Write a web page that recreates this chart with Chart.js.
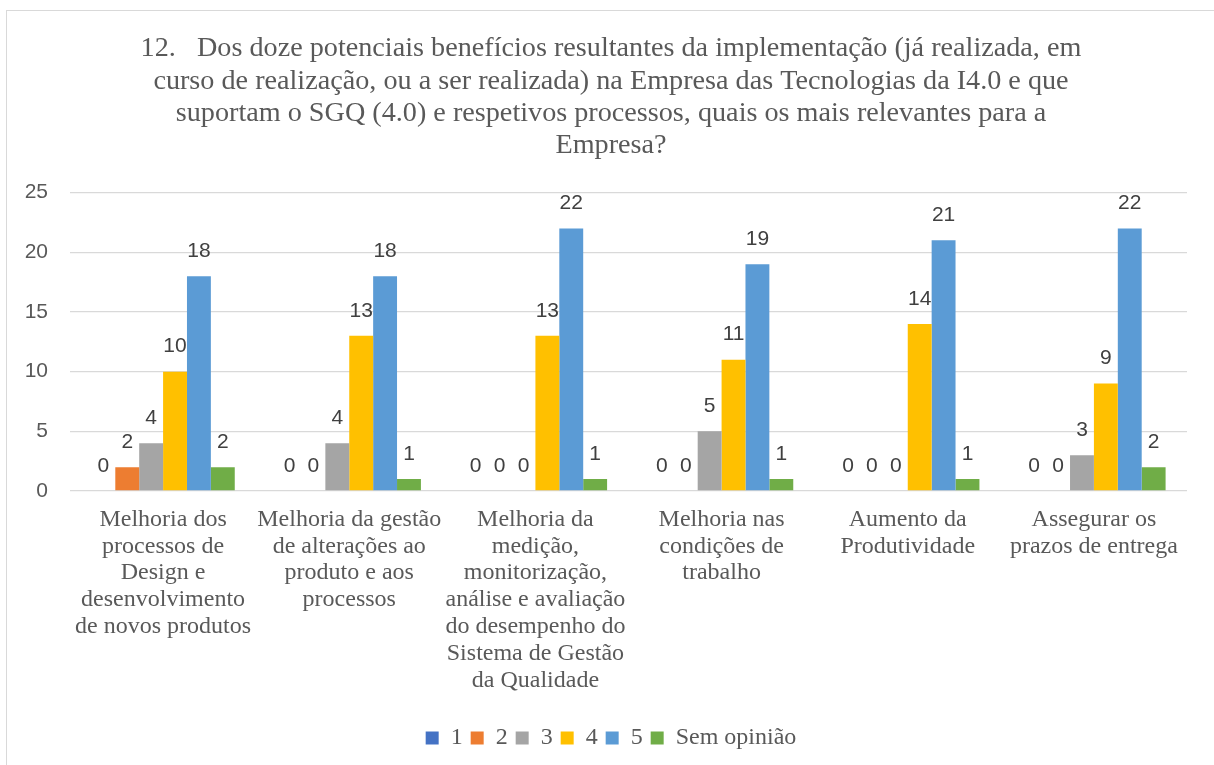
<!DOCTYPE html>
<html lang="pt">
<head>
    <meta charset="UTF-8">
    <title>Benefícios I4.0</title>
    <style>
        body {
            margin: 0;
            padding: 0;
            background: #fff;
            overflow: hidden;
        }
        .frame {
            position: absolute;
            left: 6px;
            top: 10px;
            width: 1300px;
            height: 900px;
            border: 1px solid #d9d9d9;
        }
        .chart-box {
            position: absolute;
            left: 0;
            top: 0;
            width: 1214px;
            height: 765px;
        }
    </style>
</head>
<body>
    <div class="frame"></div>
    <div class="chart-box">
        <canvas id="chart" width="1214" height="765"></canvas>
    </div>

    <script src="https://cdn.jsdelivr.net/npm/chart.js"></script>
    <script>
        // Data
        const categories = [
            ['Melhoria dos', 'processos de', 'Design e', 'desenvolvimento', 'de novos produtos'],
            ['Melhoria da gestão', 'de alterações ao', 'produto e aos', 'processos'],
            ['Melhoria da', 'medição,', 'monitorização,', 'análise e avaliação', 'do desempenho do', 'Sistema de Gestão', 'da Qualidade'],
            ['Melhoria nas', 'condições de', 'trabalho'],
            ['Aumento da', 'Produtividade'],
            ['Assegurar os', 'prazos de entrega']
        ];
        const seriesNames = ['1', '2', '3', '4', '5', 'Sem opinião'];
        const s1 = [0, 0, 0, 0, 0, 0];
        const s2 = [2, 0, 0, 0, 0, 0];
        const s3 = [4, 4, 0, 5, 0, 3];
        const s4 = [10, 13, 13, 11, 14, 9];
        const s5 = [18, 18, 22, 19, 21, 22];
        const sSem = [2, 1, 1, 1, 1, 2];
        const colors = ['#4472C4', '#ED7D31', '#A5A5A5', '#FFC000', '#5B9BD5', '#70AD47'];
        const yTicks = [0, 5, 10, 15, 20, 25];

        const titleLines = [
            '12.   Dos doze potenciais benefícios resultantes da implementação (já realizada, em',
            'curso de realização, ou a ser realizada) na Empresa das Tecnologias da I4.0 e que',
            'suportam o SGQ (4.0) e respetivos processos, quais os mais relevantes para a',
            'Empresa?'
        ];

        const serif = '"Liberation Serif", "Times New Roman", serif';
        const sans = '"Liberation Sans", Arial, sans-serif';

        const allSeries = [s1, s2, s3, s4, s5, sSem];
        const datasets = allSeries.map((vals, i) => ({
            label: seriesNames[i],
            data: vals,
            backgroundColor: colors[i],
            borderWidth: 0,
            categoryPercentage: 0.77,
            barPercentage: 1.0
        }));

        // Value labels above each bar
        const valueLabels = {
            id: 'valueLabels',
            afterDatasetsDraw(chart) {
                const ctx = chart.ctx;
                ctx.save();
                ctx.font = '21px ' + sans;
                ctx.fillStyle = '#404040';
                ctx.textAlign = 'center';
                ctx.textBaseline = 'middle';
                chart.data.datasets.forEach((ds, i) => {
                    chart.getDatasetMeta(i).data.forEach((bar, j) => {
                        ctx.fillText(String(ds.data[j]), bar.x, bar.y - 25);
                    });
                });
                ctx.restore();
            }
        };

        new Chart(document.getElementById('chart').getContext('2d'), {
            type: 'bar',
            data: {
                labels: categories,
                datasets: datasets
            },
            options: {
                responsive: false,
                animation: false,
                layout: {
                    padding: { top: 33, left: 8, right: 0, bottom: 5 }
                },
                plugins: {
                    title: {
                        display: true,
                        text: titleLines,
                        color: '#595959',
                        font: { family: serif, size: 28.2, weight: 'normal', lineHeight: 1.14 },
                        padding: { top: 0, bottom: 31 }
                    },
                    legend: {
                        position: 'bottom',
                        labels: {
                            color: '#595959',
                            font: { family: serif, size: 24 },
                            boxWidth: 13,
                            boxHeight: 13,
                            padding: 8
                        }
                    },
                    tooltip: { enabled: false }
                },
                scales: {
                    x: {
                        grid: { display: false, drawTicks: false },
                        border: { display: false },
                        ticks: {
                            color: '#595959',
                            font: { family: serif, size: 24, lineHeight: 1.12 },
                            maxRotation: 0,
                            autoSkip: false,
                            padding: 15
                        },
                        afterFit(scale) { scale.height = 227; }
                    },
                    y: {
                        min: 0,
                        max: 25,
                        afterBuildTicks(scale) { scale.ticks = yTicks.map(v => ({ value: v })); },
                        grid: { color: '#d9d9d9', lineWidth: 1.3, drawTicks: false },
                        border: { display: false },
                        ticks: {
                            color: '#595959',
                            font: { family: sans, size: 21 },
                            padding: 22
                        },
                        afterFit(scale) { scale.width = 62; }
                    },
                    // empty right margin so the title and legend centre like the original
                    yRight: {
                        position: 'right',
                        grid: { display: false, drawTicks: false },
                        border: { display: false },
                        ticks: { display: false },
                        afterFit(scale) { scale.width = 27; }
                    }
                }
            },
            plugins: [valueLabels]
        });
    </script>
</body>
</html>
